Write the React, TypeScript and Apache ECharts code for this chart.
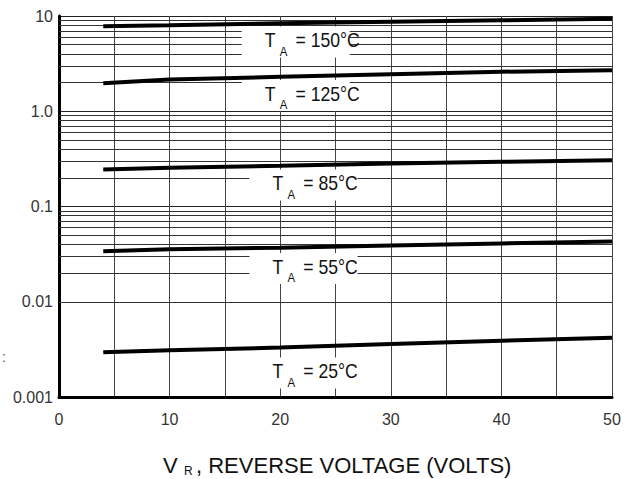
import React, { useEffect, useRef } from "react";
import * as echarts from "echarts";

// Reverse voltage (V)
const voltage = [4, 10, 20, 30, 40, 50];
// Reverse current curves for each ambient temperature
const ta150 = [7.8, 8.0, 8.4, 8.7, 9.0, 9.35];
const ta125 = [1.97, 2.15, 2.3, 2.45, 2.6, 2.7];
const ta85 = [0.245, 0.255, 0.268, 0.283, 0.295, 0.305];
const ta55 = [0.034, 0.0355, 0.037, 0.039, 0.041, 0.043];
const ta25 = [0.00295, 0.0031, 0.0033, 0.0036, 0.0039, 0.0042];
const curveNames = ["150", "125", "85", "55", "25"];
const curves = [ta150, ta125, ta85, ta55, ta25];
// Label anchors (data coordinates) for "T_A = ..°C"
const labelX = [18.6, 18.6, 19.3, 19.3, 19.3];
const labelY = [5.53, 1.52, 0.174, 0.0232, 0.00185];
const labelText = ["= 150°C", "= 125°C", "= 85°C", "= 55°C", "= 25°C"];
// Axis tick labels
const yTickText: Record<string, string> = { "1": "10", "0": "1.0", "-1": "0.1", "-2": "0.01", "-3": "0.001" };
const decades = [0.001, 0.01, 0.1, 1];
const minorMultipliers = [2, 3, 4, 5, 6, 7, 8, 9];

const FONT = "Liberation Sans, Arial, sans-serif";

export default function App() {
  const ref = useRef<HTMLDivElement>(null);
  useEffect(() => {
    if (!ref.current) return;
    const chart = echarts.init(ref.current, undefined, { renderer: "svg" });
    const minorLines = decades.flatMap((d) => minorMultipliers.map((m) => ({ yAxis: +(m * d).toPrecision(3) })));
    const option: any = {
      animation: false,
      backgroundColor: "#ffffff",
      grid: { left: 59, top: 16, right: 18, bottom: 82 },
      xAxis: {
        type: "value",
        min: 0,
        max: 50,
        interval: 5,
        axisLine: { show: true, onZero: false, lineStyle: { color: "#000", width: 3 } },
        axisTick: { show: false },
        axisLabel: {
          fontSize: 16,
          fontFamily: FONT,
          color: "#333",
          margin: 14,
          formatter: (v: number) => (v % 10 === 0 ? String(v) : ""),
        },
        splitLine: { show: true, lineStyle: { color: "#444", width: 1 } },
      },
      yAxis: {
        type: "log",
        logBase: 10,
        min: 0.001,
        max: 10,
        interval: 1,
        axisLine: { show: true, lineStyle: { color: "#000", width: 3 } },
        axisTick: { show: false },
        axisLabel: {
          fontSize: 16,
          fontFamily: FONT,
          color: "#333",
          margin: 6,
          formatter: (v: number) => yTickText[String(Math.round(Math.log10(v)))] ?? "",
        },
        splitLine: { show: true, lineStyle: { color: "#222", width: 1 } },
      },
      series: [
        {
          type: "line",
          name: "grid",
          data: [],
          silent: true,
          markLine: {
            silent: true,
            symbol: ["none", "none"],
            z: 5,
            label: { show: false },
            lineStyle: { color: "#333", width: 1, type: "solid" },
            emphasis: { disabled: true },
            data: minorLines,
          },
        },
        ...curves.map((c, i) => ({
          type: "line",
          name: curveNames[i],
          z: 20,
          data: voltage.map((v, j) => [v, c[j]]),
          showSymbol: false,
          symbol: "none",
          lineStyle: { color: "#000", width: 4 },
        })),
      ],
    };
    chart.setOption(option);

    const graphics: any[] = [];
    curves.forEach((_, i) => {
      const p = chart.convertToPixel({ xAxisIndex: 0, yAxisIndex: 0 }, [labelX[i], labelY[i]]) as number[];
      graphics.push({
        type: "rect",
        z: 10,
        shape: { x: p[0] - 23, y: p[1] - 14, width: 108, height: 31 },
        style: { fill: "#fff" },
        silent: true,
      });
      graphics.push({
        type: "group",
        x: p[0],
        y: p[1],
        scaleX: 0.88,
        z: 30,
        children: [
          { type: "text", x: 0, y: 0, z: 30, style: { text: "T", fontSize: 20, fontFamily: FONT, fill: "#111", verticalAlign: "middle", align: "left" } },
          { type: "text", x: 17, y: 11, z: 30, style: { text: "A", fontSize: 13, fontFamily: FONT, fill: "#111", verticalAlign: "middle", align: "left" } },
          { type: "text", x: 35, y: 0, z: 30, style: { text: labelText[i], fontSize: 20, fontFamily: FONT, fill: "#111", verticalAlign: "middle", align: "left" } },
        ],
      });
    });
    graphics.push(
      { type: "text", x: 163, y: 465, style: { text: "V", fontSize: 22, fontFamily: FONT, fill: "#111", verticalAlign: "middle", align: "left" } },
      { type: "text", x: 184, y: 471, style: { text: "R", fontSize: 12, fontFamily: FONT, fill: "#111", verticalAlign: "middle", align: "left" } },
      { type: "text", x: 196, y: 465, style: { text: ", REVERSE VOLTAGE (VOLTS)", fontSize: 22, fontFamily: FONT, fill: "#111", verticalAlign: "middle", align: "left" } },
      { type: "text", x: 2, y: 357, style: { text: ":", fontSize: 14, fontFamily: FONT, fill: "#555", verticalAlign: "middle", align: "left" } }
    );
    chart.setOption({ graphic: graphics });

    return () => chart.dispose();
  }, []);
  return <div ref={ref} style={{ position: "fixed", left: 0, top: 0, width: 630, height: 479, background: "#fff" }} />;
}
